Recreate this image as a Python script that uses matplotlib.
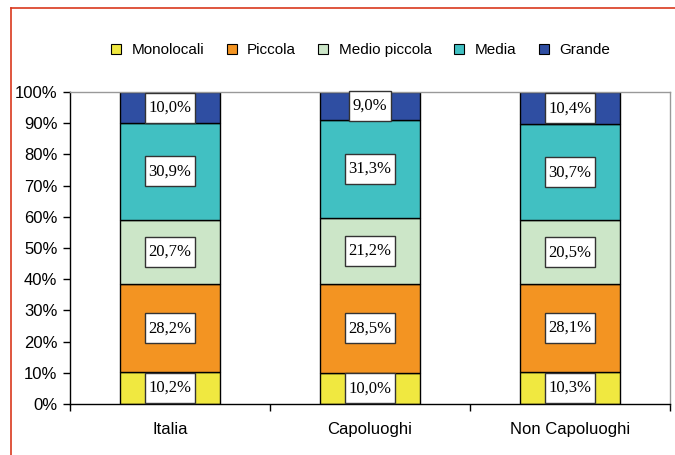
import matplotlib
matplotlib.use("Agg")
import matplotlib.pyplot as plt
import numpy as np
from matplotlib.path import Path
from matplotlib.lines import Line2D
from matplotlib.ticker import FixedLocator

categories = ["Italia", "Capoluoghi", "Non Capoluoghi"]
series = ["Monolocali", "Piccola", "Medio piccola", "Media", "Grande"]
monolocali = [10.2, 10.0, 10.3]
piccola = [28.2, 28.5, 28.1]
medio_piccola = [20.7, 21.2, 20.5]
media = [30.9, 31.3, 30.7]
grande = [10.0, 9.0, 10.4]
colors = ["#F0E840", "#F39422", "#CCE6C8", "#41C0C2", "#2F4EA2"]
yticks = [0, 10, 20, 30, 40, 50, 60, 70, 80, 90, 100]

values = [monolocali, piccola, medio_piccola, media, grande]

fig = plt.figure(figsize=(6.75, 4.55), dpi=100)
ax = fig.add_axes([70/675, 1-404/455, 600/675, 312/455])

x = np.arange(len(categories))


def label_box(x0, y0, width, height, mutation_size):
    px = 0.2 * mutation_size
    py = 0.42 * mutation_size
    xa, ya = x0 - px, y0 - py
    xb, yb = x0 + width + px, y0 + height + py
    return Path([(xa, ya), (xb, ya), (xb, yb), (xa, yb), (xa, ya)],
                [Path.MOVETO, Path.LINETO, Path.LINETO, Path.LINETO, Path.CLOSEPOLY])


bottom = np.zeros(len(categories))
handles = []
for name, vals, col in zip(series, values, colors):
    vals = np.array(vals)
    ax.bar(x, vals, width=0.5, bottom=bottom, color=col,
           edgecolor="black", linewidth=1.0, label=name, zorder=2)
    for xi, b, v in zip(x, bottom, vals):
        ax.text(xi, b + v / 2, f"{v:.1f}%".replace(".", ","),
                ha="center", va="center", fontsize=12,
                family="Liberation Serif", color="black", zorder=4,
                bbox=dict(boxstyle=label_box, facecolor="white",
                          edgecolor="#333333", linewidth=1.0))
    bottom = bottom + vals
    handles.append(Line2D([], [], marker="s", linestyle="none", markersize=7,
                          markerfacecolor=col, markeredgecolor="black",
                          markeredgewidth=0.8))

ax.set_xlim(-0.5, 2.5)
ax.set_ylim(0, 100)
ax.set_yticks(yticks)
ax.set_yticklabels([f"{t}%" for t in yticks], family="Liberation Sans", fontsize=12)
ax.set_xticks(x)
ax.set_xticklabels(categories, family="Liberation Sans", fontsize=12)
ax.tick_params(axis="x", length=0, pad=13)
ax.xaxis.set_minor_locator(FixedLocator([-0.5, 0.5, 1.5, 2.5]))
ax.tick_params(axis="x", which="minor", length=5, direction="out", width=1)
ax.tick_params(axis="y", length=5, direction="out", width=1, pad=4)

for s in ["left", "bottom"]:
    ax.spines[s].set_color("black")
    ax.spines[s].set_linewidth(1.0)
for s in ["top", "right"]:
    ax.spines[s].set_color("#999999")
    ax.spines[s].set_linewidth(1.0)

fig.legend(handles, series, loc="center", bbox_to_anchor=(360/675, 1-50/455),
           ncol=5, frameon=False, prop={"family": "Liberation Sans", "size": 11},
           handlelength=0.8, handletextpad=0.6, columnspacing=1.4)

# red outer frame
red = "#D9381E"
fig.add_artist(Line2D([11/675, 1.0], [1-8/455, 1-8/455], color=red, linewidth=1.2,
                      transform=fig.transFigure))
fig.add_artist(Line2D([11/675, 11/675], [0.0, 1-8/455], color=red, linewidth=1.2,
                      transform=fig.transFigure))

fig.savefig("out.png", dpi=100)
